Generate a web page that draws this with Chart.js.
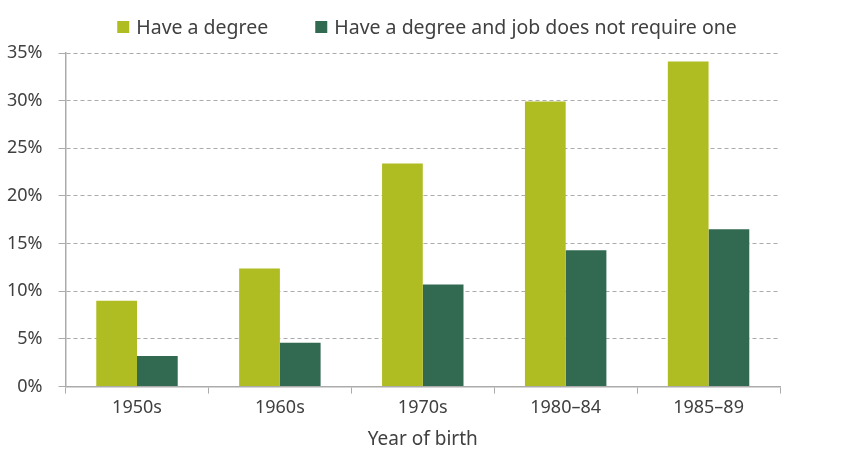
<!DOCTYPE html>
<html>
<head>
<meta charset="utf-8">
<script src="https://cdn.jsdelivr.net/npm/chart.js@4"></script>
<style>
  html, body { margin: 0; padding: 0; background: #fff; }
  #wrap { width: 848px; height: 457px; }
</style>
</head>
<body>
<div id="wrap"><canvas id="chart"></canvas></div>
<script>
// values
var categories = ['1950s', '1960s', '1970s', '1980\u201384', '1985\u201389'];
var haveDegree = [9.0, 12.4, 23.4, 29.9, 34.1];
var degreeJobNotRequired = [3.2, 4.6, 10.7, 14.3, 16.5];
var seriesNames = ['Have a degree', 'Have a degree and job does not require one'];

var textColor = '#404040';
var lineColor = '#ababab';
var fontFamily = '"Noto Sans", "Open Sans", sans-serif';

Chart.defaults.font.family = fontFamily;
Chart.defaults.color = textColor;

// legend drawn by hand so the spacing between the two items matches
var topLegend = {
  id: 'topLegend',
  afterDraw: function (chart) {
    var c = chart.ctx;
    var box = 12, gap = 7, itemGap = 47, y = 27, centre = 427;
    c.save();
    c.font = '19.5px ' + fontFamily;
    c.textBaseline = 'middle';
    var total = 0;
    chart.data.datasets.forEach(function (ds, i) {
      total += box + gap + c.measureText(ds.label).width + (i > 0 ? itemGap : 0);
    });
    var x = centre - total / 2;
    chart.data.datasets.forEach(function (ds) {
      c.fillStyle = ds.backgroundColor;
      c.fillRect(x, y - box / 2, box, box);
      c.fillStyle = textColor;
      c.fillText(ds.label, x + box + gap, y + 1);
      x += box + gap + c.measureText(ds.label).width + itemGap;
    });
    c.restore();
  }
};

var ctx = document.getElementById('chart').getContext('2d');
var config = {
  type: 'bar',
  data: {
    labels: categories,
    datasets: [{
      label: seriesNames[0],
      data: haveDegree,
      backgroundColor: '#afbc22'
    }, {
      label: seriesNames[1],
      data: degreeJobNotRequired,
      backgroundColor: '#326951'
    }]
  },
  options: {
    responsive: true,
    maintainAspectRatio: false,
    animation: false,
    categoryPercentage: 0.57,
    barPercentage: 1,
    layout: { padding: { left: -9, right: 68, top: 53, bottom: 2 } },
    plugins: {
      tooltip: { enabled: false },
      legend: { display: false }
    },
    scales: {
      x: {
        grid: { display: true, drawOnChartArea: false, tickLength: 7, color: lineColor, offset: true },
        border: { display: true, color: lineColor, width: 1.5 },
        ticks: { font: { size: 18 }, padding: 3, color: textColor },
        title: { display: true, text: 'Year of birth', font: { size: 19 }, color: textColor, padding: { top: 7 } }
      },
      y: {
        min: 0,
        max: 35,
        ticks: {
          stepSize: 5,
          font: { size: 18 },
          padding: 16,
          color: textColor,
          callback: function (v) { return v + '%'; }
        },
        grid: { color: lineColor, tickLength: 7 },
        border: { display: true, color: lineColor, width: 1.5, dash: [4, 3] }
      }
    }
  },
  plugins: [topLegend]
};
new Chart(ctx, config);
</script>
</body>
</html>
